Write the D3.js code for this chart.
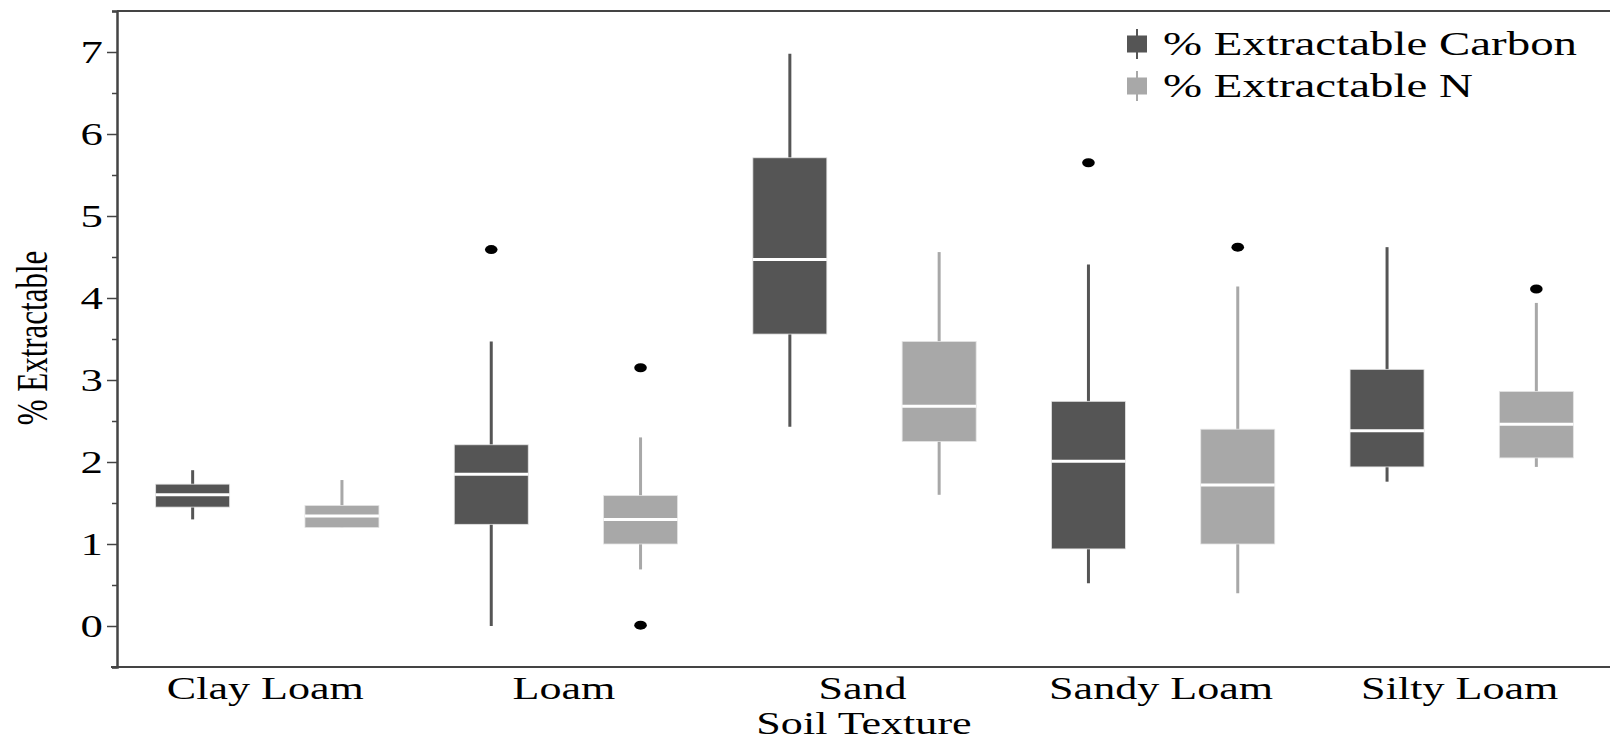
<!DOCTYPE html>
<html>
<head>
<meta charset="utf-8">
<script src="https://cdn.jsdelivr.net/npm/d3@7"></script>
<style>
  body { margin: 0; background: #fff; }
  text { font-family: "Liberation Serif", "Times New Roman", serif; fill: #000; }
</style>
</head>
<body>
<div id="my_dataviz"></div>
<script>
// data
var textures = ["Clay Loam", "Loam", "Sand", "Sandy Loam", "Silty Loam"];
var seriesNames = ["% Extractable Carbon", "% Extractable N"];
// [whisker low, q1, median, q3, whisker high] per texture
var carbonStats = [
  [1.30, 1.45, 1.60, 1.73, 1.90],
  [0.00, 1.24, 1.85, 2.21, 3.47],
  [2.43, 3.56, 4.47, 5.71, 6.98],
  [0.52, 0.94, 2.01, 2.74, 4.41],
  [1.76, 1.94, 2.38, 3.13, 4.62]
];
var nitrogenStats = [
  [1.20, 1.20, 1.34, 1.47, 1.78],
  [0.69, 1.00, 1.30, 1.59, 2.30],
  [1.60, 2.25, 2.68, 3.47, 4.56],
  [0.40, 1.00, 1.72, 2.40, 4.14],
  [1.94, 2.05, 2.46, 2.86, 3.94]
];
var carbonOutliers = [[], [4.59], [], [5.65], []];
var nitrogenOutliers = [[], [3.15, 0.01], [], [4.62], [4.11]];
var yTicks = [0, 1, 2, 3, 4, 5, 6, 7];
var colors = ["#555555", "#a8a8a8"];

// horizontal stretch of the original text
var k = 1.4;

var width = 1610, height = 741;
var margin = {top: 11, left: 117, bottom: 667, right: 1611};

var svg = d3.select("#my_dataviz")
  .append("svg")
  .attr("width", width)
  .attr("height", height);

var x = d3.scaleBand()
  .domain(textures)
  .range([118, margin.right]);

var sub = d3.scaleBand()
  .domain(seriesNames)
  .range([0, x.bandwidth()])
  .paddingInner(0.5)
  .paddingOuter(0.25);

var y = d3.scaleLinear()
  .domain([-0.5, 7.5])
  .range([margin.bottom, margin.top]);

var boxW = 74;

// frame: top line, left axis, bottom axis
svg.append("line")
  .attr("x1", margin.left).attr("x2", width)
  .attr("y1", y(7.5)).attr("y2", y(7.5))
  .attr("stroke", "#444").attr("stroke-width", 2);
svg.append("line")
  .attr("x1", 111).attr("x2", width)
  .attr("y1", y(-0.5)).attr("y2", y(-0.5))
  .attr("stroke", "#444").attr("stroke-width", 2);

// y axis with minor ticks
var yAxis = svg.append("g")
  .attr("transform", "translate(" + margin.left + ",0)")
  .call(d3.axisLeft(y).tickValues(d3.range(-0.5, 7.6, 0.5)).tickSize(5).tickFormat(""));
yAxis.selectAll("line").filter(function(d) { return d % 1 === 0; }).attr("x2", -10);
yAxis.selectAll("line").attr("stroke", "#444").attr("stroke-width", 1.5);
yAxis.select(".domain").attr("stroke", "#444").attr("stroke-width", 2.5);

// y tick labels
svg.selectAll(".ylab")
  .data(yTicks)
  .join("text")
  .attr("class", "ylab")
  .attr("transform", function(d) { return "translate(103," + (y(d) + 11) + ") scale(" + k + ",1)"; })
  .attr("text-anchor", "end")
  .style("font-size", "32px")
  .text(function(d) { return d; });

// x tick labels
svg.selectAll(".xlab")
  .data(textures)
  .join("text")
  .attr("class", "xlab")
  .attr("transform", function(d) { return "translate(" + (x(d) + x.bandwidth() / 2 - 2) + ",699) scale(" + k + ",1)"; })
  .attr("text-anchor", "middle")
  .style("font-size", "31.5px")
  .text(function(d) { return d; });

// axis titles
svg.append("text")
  .attr("transform", "translate(864,734) scale(" + k + ",1)")
  .attr("text-anchor", "middle")
  .style("font-size", "31.5px")
  .text("Soil Texture");

svg.append("text")
  .attr("transform", "translate(47,338) scale(" + k + ",1) rotate(-90)")
  .attr("text-anchor", "middle")
  .style("font-size", "31px")
  .text("% Extractable");

// build the box records
var boxes = [];
textures.forEach(function(t, i) {
  boxes.push({texture: t, series: seriesNames[0], s: carbonStats[i], out: carbonOutliers[i], color: colors[0]});
  boxes.push({texture: t, series: seriesNames[1], s: nitrogenStats[i], out: nitrogenOutliers[i], color: colors[1]});
});

var g = svg.selectAll(".box")
  .data(boxes)
  .join("g")
  .attr("class", "box")
  .attr("transform", function(d) {
    return "translate(" + (x(d.texture) + sub(d.series) + sub.bandwidth() / 2) + ",0)";
  });

// whiskers
g.append("line")
  .attr("x1", 0).attr("x2", 0)
  .attr("y1", function(d) { return y(d.s[0]); })
  .attr("y2", function(d) { return y(d.s[4]); })
  .attr("stroke", function(d) { return d.color; })
  .attr("stroke-width", 3);

// boxes
g.append("rect")
  .attr("x", -boxW / 2)
  .attr("width", boxW)
  .attr("y", function(d) { return y(d.s[3]); })
  .attr("height", function(d) { return y(d.s[1]) - y(d.s[3]); })
  .attr("fill", function(d) { return d.color; })
  .attr("stroke", "#e4e4e4")
  .attr("stroke-width", 0.8);

// median
g.append("line")
  .attr("x1", -boxW / 2).attr("x2", boxW / 2)
  .attr("y1", function(d) { return y(d.s[2]); })
  .attr("y2", function(d) { return y(d.s[2]); })
  .attr("stroke", "#fff")
  .attr("stroke-width", 3);

// outliers
g.selectAll("ellipse")
  .data(function(d) { return d.out; })
  .join("ellipse")
  .attr("cx", 0)
  .attr("cy", function(v) { return y(v); })
  .attr("rx", 6.3)
  .attr("ry", 4.5)
  .attr("fill", "#000");

// legend
var legend = svg.selectAll(".leg")
  .data(seriesNames)
  .join("g")
  .attr("class", "leg")
  .attr("transform", function(d, i) { return "translate(1137," + (44 + i * 42) + ")"; });

legend.append("line")
  .attr("y1", -15).attr("y2", 15)
  .attr("stroke", function(d, i) { return colors[i]; })
  .attr("stroke-width", 2);
legend.append("rect")
  .attr("x", -10).attr("y", -8.5)
  .attr("width", 20).attr("height", 17)
  .attr("fill", function(d, i) { return colors[i]; });
legend.append("text")
  .attr("transform", "translate(26,11) scale(" + k + ",1)")
  .style("font-size", "33.5px")
  .text(function(d) { return d; });
</script>
</body>
</html>
